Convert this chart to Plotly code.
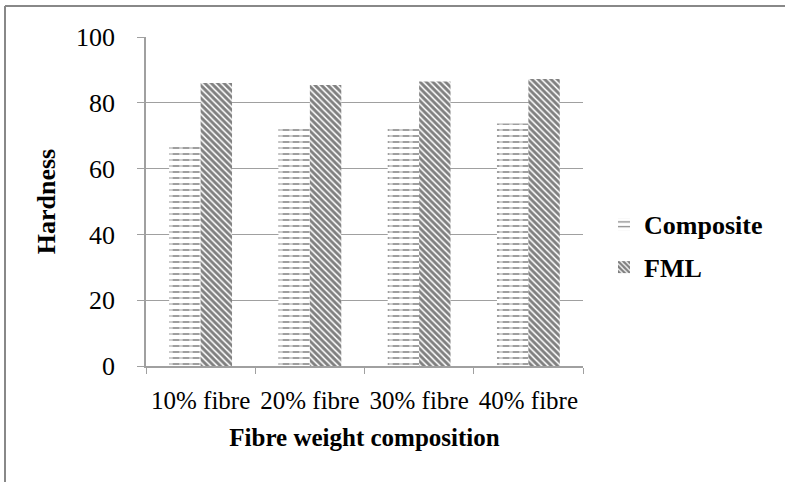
import plotly.graph_objects as go

categories = ["10% fibre", "20% fibre", "30% fibre", "40% fibre"]
composite = [67.3, 72.0, 72.0, 73.7]
fml = [86.0, 85.4, 86.5, 87.2]
y_ticks = [0, 20, 40, 60, 80, 100]

FONT = "Liberation Serif"
BAR_W = 0.2875

fig = go.Figure()
fig.add_trace(go.Bar(
    x=categories, y=composite, name="Composite", legendgroup="a",
    width=BAR_W, offset=-BAR_W,
    marker=dict(color="white", line=dict(width=0),
                pattern=dict(shape="-", fgcolor="black", bgcolor="white",
                             size=6, solidity=0.25)),
))
# white vertical breaks to turn the horizontal lines into dashes
fig.add_trace(go.Bar(
    x=categories, y=composite, name="Composite", legendgroup="a",
    showlegend=False, hoverinfo="skip",
    width=BAR_W, offset=-BAR_W,
    marker=dict(color="rgba(0,0,0,0)", line=dict(width=0),
                pattern=dict(shape="|", fgcolor="white", bgcolor="rgba(0,0,0,0)",
                             size=10, solidity=0.35)),
))
fig.add_trace(go.Bar(
    x=categories, y=fml, name="FML", legendgroup="b",
    width=BAR_W, offset=0,
    marker=dict(color="white", line=dict(width=0),
                pattern=dict(shape="\\", fgcolor="black", bgcolor="white",
                             size=4.5, solidity=0.65)),
))

L, R, T, B = 146, 202, 37, 116
W, H = 785, 482
pw, ph = W - L - R, H - T - B
bx = (5 - L) / pw
by = 1 + (T - 6) / ph

fig.update_layout(
    width=W, height=H,
    margin=dict(l=L, r=R, t=T, b=B, autoexpand=False),
    paper_bgcolor="white", plot_bgcolor="white",
    font=dict(family=FONT, color="black", size=24),
    barmode="overlay",
    showlegend=True,
    legend=dict(x=(654 - 50 - L) / pw, xanchor="left", y=0.365, yanchor="middle",
                font=dict(family=FONT, size=26, color="black", weight="bold"),
                traceorder="grouped", tracegroupgap=6,
                bgcolor="rgba(0,0,0,0)"),
    xaxis=dict(
        showline=True, linecolor="#A0A0A0", linewidth=1.5,
        ticks="outside", ticklen=6, tickcolor="#A0A0A0",
        tickson="boundaries", ticklabelstandoff=11,
        tickfont=dict(family=FONT, size=25, color="black"),
        title=dict(text="Fibre weight composition", standoff=16,
                   font=dict(family=FONT, size=25, color="black", weight="bold")),
        showgrid=False,
    ),
    yaxis=dict(
        range=[0, 100], tickvals=y_ticks,
        showline=True, linecolor="#A0A0A0", linewidth=1.5,
        ticks="outside", ticklen=7, tickcolor="#A0A0A0",
        ticklabelstandoff=17,
        tickfont=dict(family=FONT, size=26, color="black"),
        showgrid=True, gridcolor="#A0A0A0", gridwidth=1.2,
        zeroline=False,
        title=dict(text="Hardness", standoff=13,
                   font=dict(family=FONT, size=26, color="black", weight="bold")),
    ),
    shapes=[
        dict(type="line", xref="paper", yref="paper", x0=bx, x1=2, y0=by, y1=by,
             line=dict(color="#888888", width=2)),
        dict(type="line", xref="paper", yref="paper", x0=bx, x1=bx, y0=by, y1=-1,
             line=dict(color="#888888", width=2)),
    ],
)

fig.write_html("out.html", config={"displayModeBar": False},
               post_script="document.body.style.margin='0px';")
